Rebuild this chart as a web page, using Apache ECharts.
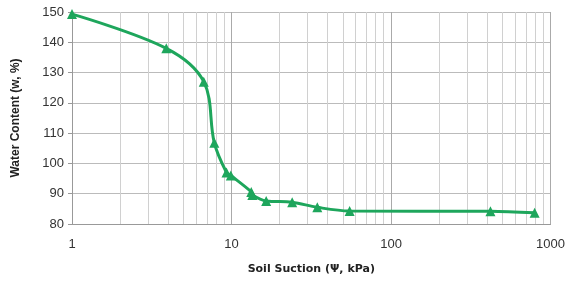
<!DOCTYPE html>
<html>
<head>
<meta charset="utf-8">
<script src="https://cdn.jsdelivr.net/npm/echarts@6/dist/echarts.min.js"></script>
<style>
  html, body { margin: 0; padding: 0; background: #fff; }
  #chart { width: 568px; height: 281px; }
</style>
</head>
<body>
<div id="chart"></div>
<script>
// soil water characteristic curve
var suction = [1, 3.9, 6.7, 7.8, 9.3, 9.9, 13.3, 13.5, 16.5, 24, 34.5, 55, 420, 795];
var waterContent = [149.3, 138, 127, 106.8, 97, 96, 90.6, 89.6, 87.6, 87.2, 85.5, 84.3, 84.2, 83.7];
var minorGrid = [2, 3, 4, 5, 6, 7, 8, 9, 20, 30, 40, 50, 60, 70, 80, 90, 200, 300, 400, 500, 600, 700, 800, 900];

var myChart = echarts.init(document.getElementById('chart'));

var points = suction.map(function (s, i) { return [s, waterContent[i]]; });

var option = {
  animation: false,
  grid: { left: 72, right: 16, top: 12, bottom: 57 },
  xAxis: {
    type: 'log',
    logBase: 10,
    min: 1,
    max: 1000,
    name: 'Soil Suction (\u03A8, kPa)',
    nameLocation: 'middle',
    nameGap: 40,
    nameTextStyle: { fontFamily: 'DejaVu Sans', fontWeight: 'bold', fontSize: 11, color: '#222' },
    axisLine: { lineStyle: { color: '#999' } },
    axisTick: { show: false },
    axisLabel: {
      fontFamily: 'Liberation Sans', fontSize: 13, color: '#333', margin: 14,
      formatter: function (v) { return String(Math.round(v)); }
    },
    splitLine: { show: true, lineStyle: { color: '#aaa', width: 1 } }
  },
  yAxis: {
    type: 'value',
    min: 80,
    max: 150,
    interval: 10,
    name: 'Water Content (w, %)',
    nameLocation: 'middle',
    nameGap: 50,
    nameTextStyle: { fontFamily: 'Liberation Sans', fontWeight: 'bold', fontSize: 12, color: '#222' },
    axisLine: { show: true, lineStyle: { color: '#999' } },
    axisTick: { show: true, length: 4, lineStyle: { color: '#999' } },
    axisLabel: { fontFamily: 'Liberation Sans', fontSize: 13, color: '#333', margin: 8 },
    splitLine: { show: true, lineStyle: { color: '#bbb', width: 1 } }
  },
  series: [{
    type: 'line',
    data: points,
    smooth: 0.35,
    symbol: 'triangle',
    symbolSize: 10,
    lineStyle: { color: '#1ea65c', width: 3 },
    itemStyle: { color: '#1ea65c' },
    z: 3,
    markLine: {
      silent: true,
      symbol: 'none',
      label: { show: false },
      lineStyle: { color: '#d0d0d0', width: 1, type: 'solid' },
      data: minorGrid.map(function (v) { return { xAxis: v }; }),
      z: 1
    }
  }]
};

myChart.setOption(option);
</script>
</body>
</html>
